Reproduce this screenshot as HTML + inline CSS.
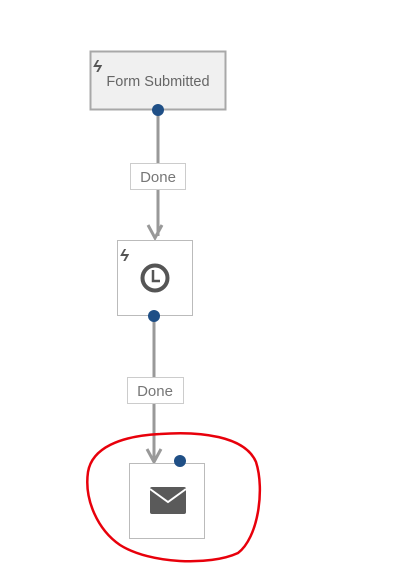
<!DOCTYPE html>
<html><head><style>body{margin:0;background:#fff}</style></head><body>
<svg width="419" height="579" viewBox="0 0 419 579" xmlns="http://www.w3.org/2000/svg" font-family="Liberation Sans, sans-serif">
<rect x="90.5" y="51.5" width="135" height="58" fill="#f0f0f0" stroke="#a8a8a8" stroke-width="2"/>
<text x="158" y="86" font-size="14.5" fill="#666" text-anchor="middle">Form Submitted</text>
<text x="93" y="72" font-size="17" fill="#555" font-style="italic" font-weight="bold">ϟ</text>
<line x1="158" y1="110" x2="158" y2="236" stroke="#999" stroke-width="3"/>
<polyline points="148,225 155,238 162,225" fill="none" stroke="#999" stroke-width="3"/>
<rect x="130.5" y="163.5" width="55" height="26" fill="#fff" stroke="#ccc"/>
<text x="158" y="182" font-size="15" fill="#777" text-anchor="middle">Done</text>
<circle cx="158" cy="110" r="6" fill="#1f4f86"/>
<rect x="117.5" y="240.5" width="75" height="75" fill="#fff" stroke="#bbb"/>
<text x="120" y="261" font-size="17" fill="#555" font-style="italic" font-weight="bold">ϟ</text>
<circle cx="155" cy="278" r="12.5" fill="none" stroke="#555" stroke-width="4"/>
<polyline points="153,270 153,281 160,281" fill="none" stroke="#555" stroke-width="2.5"/>
<line x1="154" y1="316" x2="154" y2="460" stroke="#999" stroke-width="3"/>
<polyline points="147,449 154,462 161,449" fill="none" stroke="#999" stroke-width="3"/>
<rect x="127.5" y="377.5" width="56" height="26" fill="#fff" stroke="#ccc"/>
<text x="155" y="396" font-size="15" fill="#777" text-anchor="middle">Done</text>
<circle cx="154" cy="316" r="6" fill="#1f4f86"/>
<rect x="129.5" y="463.5" width="75" height="75" fill="#fff" stroke="#bbb"/>
<rect x="150" y="487" width="36" height="27" rx="2" fill="#5a5a5a"/>
<polyline points="150,489 168,502 186,489" fill="none" stroke="#fff" stroke-width="2"/>
<circle cx="180" cy="461" r="6" fill="#1f4f86"/>
<path d="M160,434 C200,431 245,436 256,462 C265,490 258,538 238,553 C210,566 150,564 120,545 C98,530 84,500 88,472 C92,448 120,436 160,434 Z" fill="none" stroke="#e8000b" stroke-width="2.5"/>
</svg>
</body></html>
